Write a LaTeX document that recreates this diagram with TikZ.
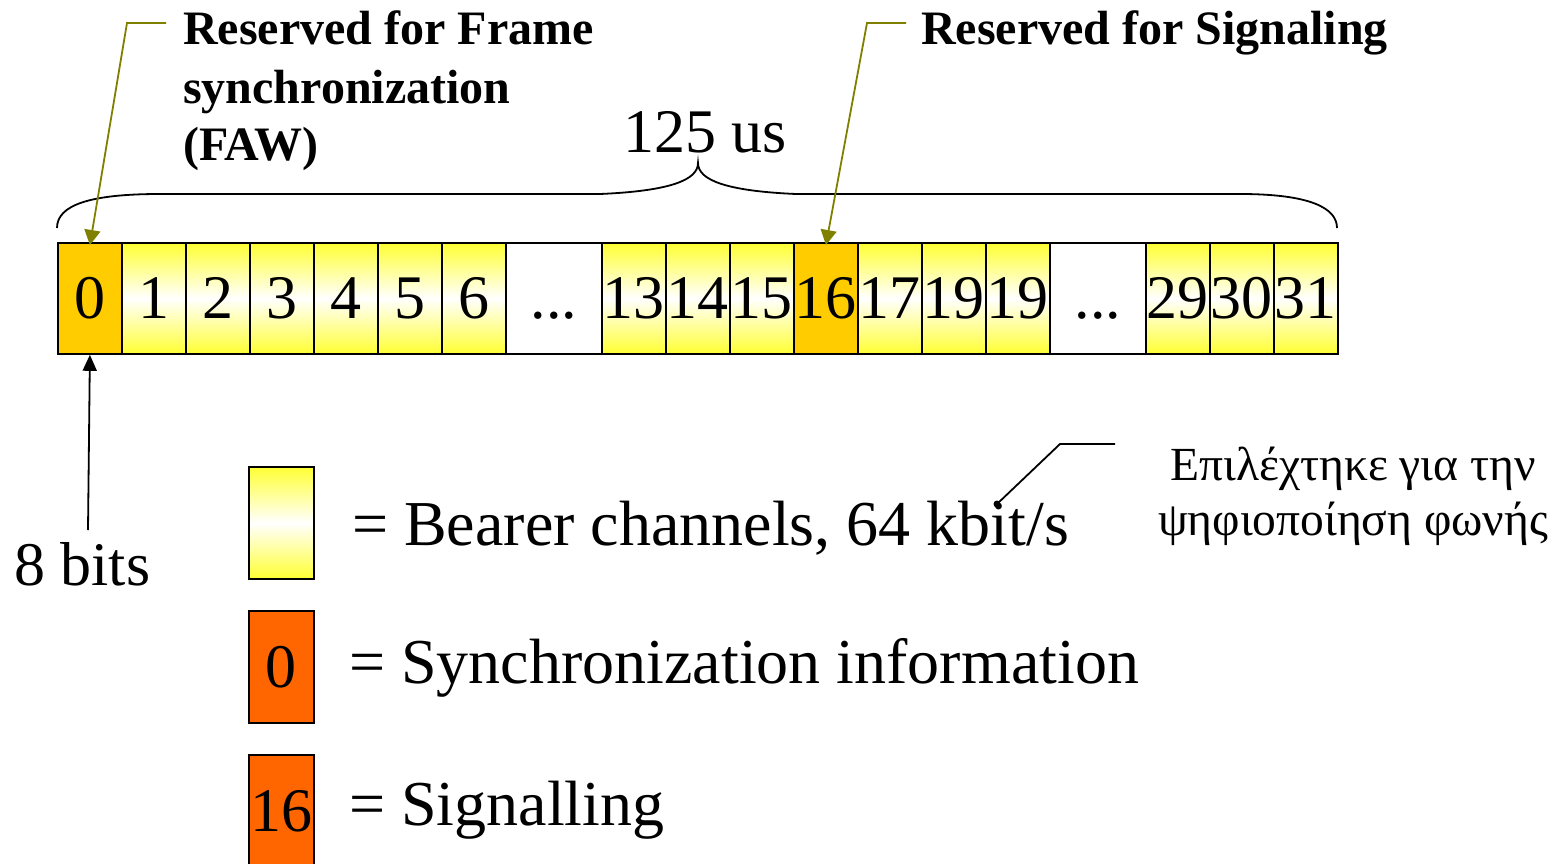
\documentclass[tikz,border=0pt]{standalone}
\usepackage{fontspec}
\setmainfont{Liberation Serif}
\usetikzlibrary{arrows.meta}
\definecolor{yel}{RGB}{255,255,51}
\definecolor{syncor}{RGB}{255,204,0}
\definecolor{legor}{RGB}{255,102,0}
\definecolor{oliv}{RGB}{128,128,0}
\newcommand{\celldots}{...}
\tikzset{
  cellbase/.style={draw=black, line width=1.8pt, anchor=north west, inner sep=0pt,
    minimum height=111pt, font=\fontsize{62}{74}\selectfont},
  ycell/.style={cellbase, minimum width=64pt, top color=yel, bottom color=yel, middle color=white},
  ocell/.style={cellbase, minimum width=64pt, fill=syncor},
  wcell/.style={cellbase, minimum width=96pt, fill=white},
  legbox/.style={draw=black, line width=1.8pt, anchor=north west, inner sep=0pt,
    minimum width=65pt, minimum height=112pt, font=\fontsize{62}{74}\selectfont},
  legtext/.style={anchor=base west, inner sep=0pt, font=\fontsize{64}{76}\selectfont},
  titletext/.style={anchor=base west, inner sep=0pt, font=\bfseries\fontsize{48}{58}\selectfont},
  oline/.style={draw=oliv, line width=1.8pt, -{Triangle[width=16pt,length=15pt]}},
  bline/.style={draw=black, line width=1.8pt},
  greek/.style={anchor=base, inner sep=0pt, font=\fontsize{47.5}{57}\selectfont},
}
\begin{document}
\begin{tikzpicture}[x=1pt,y=-1pt]
\useasboundingbox (0,0) rectangle (1565,864);
\begin{scope}
\clip (0,0) rectangle (1565,864);
% frame cells
\foreach \n/\xx/\lab/\sty in {0/57/0/ocell,1/121/1/ycell,2/185/2/ycell,3/249/3/ycell,4/313/4/ycell,5/377/5/ycell,6/441/6/ycell,7/505/\celldots/wcell,8/601/13/ycell,9/665/14/ycell,10/729/15/ycell,11/793/16/ocell,12/857/17/ycell,13/921/19/ycell,14/985/19/ycell,15/1049/\celldots/wcell,16/1145/29/ycell,17/1209/30/ycell,18/1273/31/ycell}
  \node[\sty] (c\n) at (\xx,242) {\raisebox{-5pt}{\vphantom{0}\lab}};
% brace
\draw[line width=1.8pt] (57,228) .. controls (57,205) and (90,194) .. (160,194) -- (600,194)
  .. controls (670,191) and (698,180) .. (698,163)
  .. controls (698,180) and (726,191) .. (796,194) -- (1240,194)
  .. controls (1310,194) and (1337,208) .. (1337,228);
\node[anchor=base west, inner sep=0pt, font=\fontsize{62}{74}\selectfont] (dur) at (623,153) {125 us};
% titles
\node[titletext] (faw1) at (183,45) {Reserved for Frame};
\node[titletext] (faw2) at (183,103) {synchronization};
\node[titletext] (faw3) at (183,160) {(FAW)};
\node[titletext] (sig) at (921,45) {Reserved for Signaling};
\coordinate (k1) at (166,23);
\coordinate (k2) at (127,23);
\coordinate (k3) at (906,23);
\coordinate (k4) at (867,23);
\draw[oline] (k1) -- (k2) -- ([yshift=-3pt]c0.north);
\draw[oline] (k3) -- (k4) -- ([yshift=-3pt]c11.north);
% 8 bits
\node[anchor=base west, inner sep=0pt, font=\fontsize{62}{74}\selectfont] (bits) at (14,585) {8 bits};
\coordinate (b8) at (88,530);
\draw[bline, -{Triangle[width=14pt,length=16pt]}] (b8) -- (c0.south);
% legend
\node[legbox, top color=yel, bottom color=yel, middle color=white] (l1) at (248,466) {};
\node[legbox, fill=legor] (l2) at (248,610) {\raisebox{-5pt}{0}};
\node[legbox, fill=legor] (l3) at (248,754) {\raisebox{-5pt}{16}};
\node[legtext] (t1) at (352,545) {= Bearer channels, 64 kbit/s};
\node[legtext] (t2) at (349,683) {= Synchronization information};
\node[legtext] (t3) at (349,825) {= Signalling};
% greek note
\node[greek] (gr1) at (1353,480) {Επιλέχτηκε για την};
\node[greek] (gr2) at (1353,535) {ψηφιοποίηση φωνής};
\coordinate (g1) at (997,504);
\coordinate (g2) at (1060,444);
\coordinate (g3) at (1115,444);
\fill (g1) circle (3.5pt);
\draw[line width=1.8pt] (g1) -- (g2) -- (g3);
\end{scope}
\end{tikzpicture}
\end{document}
